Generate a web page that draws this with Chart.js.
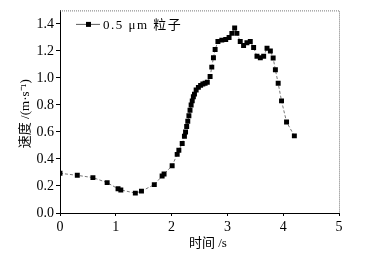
<!DOCTYPE html>
<html>
<head>
<meta charset="utf-8">
<script src="https://cdn.jsdelivr.net/npm/chart.js@4/dist/chart.umd.min.js"></script>
<style>
html,body{margin:0;padding:0;background:#fff;}
#wrap{width:367px;height:253px;position:relative;}
</style>
</head>
<body>
<div id="wrap"><canvas id="c" width="367" height="253"></canvas></div>
<script>
const seriesLabel = '0.5 μm 粒子';
const xTitle = '时间 /s';
const yTitle = '速度 /(m·s⁻¹)';
const times = [0, 0.31, 0.59, 0.845, 1.04, 1.09, 1.35, 1.46, 1.69, 1.83, 1.865, 2.01, 2.10, 2.13, 2.19, 2.23, 2.25, 2.27, 2.29, 2.31, 2.33, 2.35, 2.37, 2.39, 2.41, 2.44, 2.48, 2.52, 2.56, 2.60, 2.64, 2.69, 2.72, 2.75, 2.78, 2.83, 2.90, 2.97, 3.03, 3.08, 3.13, 3.17, 3.23, 3.29, 3.35, 3.41, 3.47, 3.53, 3.59, 3.65, 3.71, 3.77, 3.82, 3.86, 3.91, 3.97, 4.06, 4.20];
const speeds = [0.294, 0.279, 0.262, 0.225, 0.179, 0.171, 0.147, 0.162, 0.21, 0.274, 0.289, 0.35, 0.434, 0.465, 0.515, 0.568, 0.60, 0.64, 0.68, 0.72, 0.76, 0.80, 0.83, 0.86, 0.88, 0.91, 0.93, 0.945, 0.955, 0.96, 0.968, 1.01, 1.08, 1.15, 1.21, 1.27, 1.28, 1.285, 1.30, 1.33, 1.37, 1.33, 1.27, 1.24, 1.26, 1.27, 1.225, 1.16, 1.15, 1.16, 1.22, 1.20, 1.147, 1.06, 0.96, 0.83, 0.674, 0.571];
const xTicks = [0, 1, 2, 3, 4, 5];
const yTicks = [0, 0.2, 0.4, 0.6, 0.8, 1.0, 1.2, 1.4];

const points = times.map((t, i) => ({x: t, y: speeds[i]}));
const serif = "'Liberation Serif', 'Noto Sans CJK SC', serif";

const decor = {
  id: 'decor',
  afterDraw(chart) {
    const ctx = chart.ctx;
    const a = chart.chartArea;
    ctx.save();
    // dotted top & right frame
    ctx.strokeStyle = '#777';
    ctx.lineWidth = 1;
    ctx.setLineDash([1, 1]);
    ctx.beginPath();
    ctx.moveTo(a.left, a.top + 0.5);
    ctx.lineTo(a.right + 0.5, a.top + 0.5);
    ctx.lineTo(a.right + 0.5, a.bottom);
    ctx.stroke();
    ctx.setLineDash([]);
    // legend
    const lx = a.left + 16, ly = a.top + 14;
    ctx.strokeStyle = '#333';
    ctx.lineWidth = 0.8;
    ctx.beginPath();
    ctx.moveTo(lx, ly); ctx.lineTo(lx + 24, ly);
    ctx.stroke();
    ctx.fillStyle = '#000';
    ctx.fillRect(lx + 10, ly - 2.5, 5, 5);
    ctx.font = "13px " + serif;
    ctx.textBaseline = 'middle';
    ctx.textAlign = 'left';
    if ('letterSpacing' in ctx) ctx.letterSpacing = '1.5px';
    ctx.fillText(seriesLabel, lx + 27, ly + 1);
    if ('letterSpacing' in ctx) ctx.letterSpacing = '0px';
    // x title
    ctx.font = "13px " + serif;
    ctx.textAlign = 'center';
    ctx.fillText(xTitle, a.left + (a.right - a.left) * 0.53, a.bottom + 31);
    // y title
    ctx.translate(26, (a.top + a.bottom) / 2 + 2);
    ctx.rotate(-Math.PI / 2);
    ctx.fillText(yTitle, 0, 0);
    ctx.restore();
  }
};

new Chart(document.getElementById('c'), {
  type: 'scatter',
  data: {
    datasets: [{
      label: seriesLabel,
      data: points,
      showLine: true,
      borderColor: '#555',
      borderWidth: 0.8,
      borderDash: [3, 2],
      pointStyle: 'rect',
      pointRadius: 3.5,
      pointBackgroundColor: '#000',
      pointBorderColor: '#000',
      pointBorderWidth: 0,
      tension: 0
    }]
  },
  options: {
    responsive: false,
    animation: false,
    devicePixelRatio: 1,
    layout: {padding: {left: 0, right: 28, top: 9, bottom: 0}},
    plugins: {legend: {display: false}, tooltip: {enabled: false}},
    scales: {
      x: {
        type: 'linear', min: 0, max: 5,
        afterBuildTicks: s => { s.ticks = xTicks.map(v => ({value: v})); },
        afterFit: s => { s.height = 40; },
        grid: {drawOnChartArea: false, drawTicks: true, tickLength: 3, color: '#000'},
        border: {display: true, color: '#000', width: 1},
        ticks: {color: '#000', padding: 3, font: {family: serif, size: 14}, maxRotation: 0,
          callback: v => String(v)}
      },
      y: {
        type: 'linear', min: 0, max: 1.5,
        afterBuildTicks: s => { s.ticks = yTicks.map(v => ({value: v})); },
        afterFit: s => { s.width = 60; },
        grid: {drawOnChartArea: false, drawTicks: true, tickLength: 4, color: '#000'},
        border: {display: true, color: '#000', width: 1},
        ticks: {color: '#000', padding: 2, font: {family: serif, size: 14},
          callback: v => Number(v).toFixed(1)}
      }
    }
  },
  plugins: [decor]
});
</script>
</body>
</html>
